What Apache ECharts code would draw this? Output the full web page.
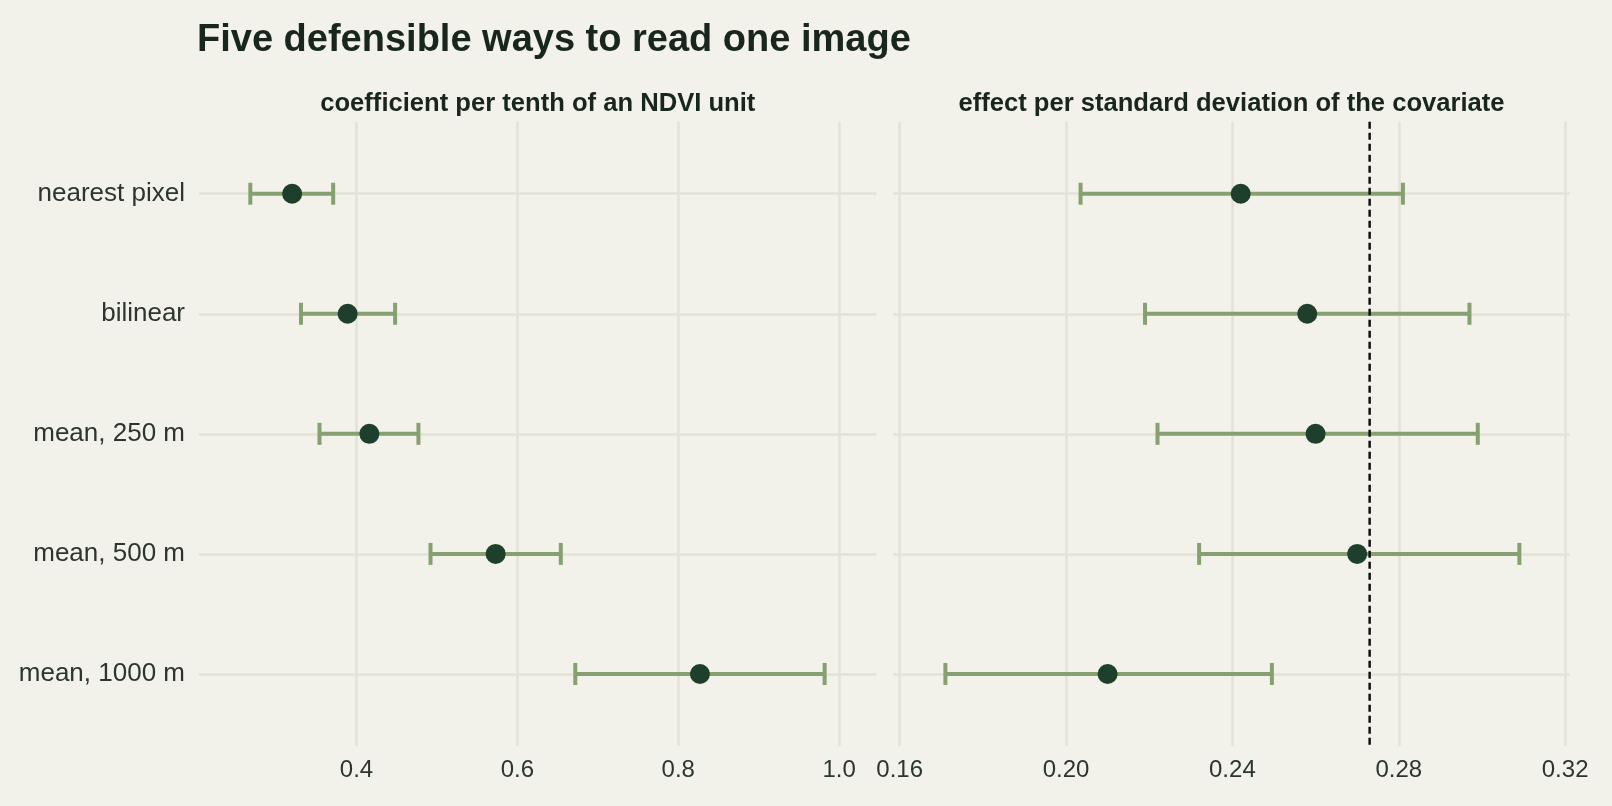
<!DOCTYPE html>
<html lang="en">
<head>
<meta charset="UTF-8">
<title>Five defensible ways to read one image</title>
<script src="https://cdn.jsdelivr.net/npm/echarts@6/dist/echarts.min.js"></script>
<style>
    html, body { margin: 0; height: 100%; background: #f2f2ea; }
    #chart { width: 1612px; height: 806px; }
</style>
</head>
<body>
<div id="chart"></div>
<script>
    // extraction methods, top to bottom
    let methods = ['nearest pixel', 'bilinear', 'mean, 250 m', 'mean, 500 m', 'mean, 1000 m'];

    // left panel: coefficient per tenth of an NDVI unit
    let coefEst  = [0.320, 0.389, 0.416, 0.573, 0.827];
    let coefLow  = [0.268, 0.331, 0.354, 0.492, 0.672];
    let coefHigh = [0.371, 0.448, 0.477, 0.654, 0.982];
    let coefTicks = [0.4, 0.6, 0.8, 1.0];

    // right panel: effect per standard deviation of the covariate
    let sdEst  = [0.242, 0.258, 0.260, 0.270, 0.210];
    let sdLow  = [0.2035, 0.219, 0.222, 0.232, 0.171];
    let sdHigh = [0.281, 0.297, 0.299, 0.309, 0.2495];
    let sdTicks = [0.16, 0.20, 0.24, 0.28, 0.32];
    let sdRef = 0.273;

    let font = "'Liberation Sans', Arial, Helvetica, sans-serif";
    let gridColor = '#e3e2d7';
    let barColor = '#86a06f';
    let pointColor = '#1e3f2b';
    let textColor = '#2c3530';
    let rows = methods.map(function (m, i) { return i; });
    let yMin = -0.6, yMax = 4.6;

    function errorBar(params, api) {
        let lo = api.coord([api.value(0), api.value(2)]);
        let hi = api.coord([api.value(1), api.value(2)]);
        let cap = 11;
        let style = {stroke: barColor, lineWidth: 4};
        return {
            type: 'group',
            children: [
                {type: 'line', shape: {x1: lo[0], y1: lo[1], x2: hi[0], y2: hi[1]}, style: style},
                {type: 'line', shape: {x1: lo[0], y1: lo[1] - cap, x2: lo[0], y2: lo[1] + cap}, style: style},
                {type: 'line', shape: {x1: hi[0], y1: hi[1] - cap, x2: hi[0], y2: hi[1] + cap}, style: style}
            ]
        };
    }

    function xAxisFor(idx, min, max, ticks, digits) {
        return {
            type: 'value', gridIndex: idx, min: min, max: max,
            axisLine: {show: false},
            axisTick: {show: false, customValues: ticks},
            axisLabel: {
                customValues: ticks, margin: 12, fontSize: 24, color: textColor, fontFamily: font,
                formatter: function (v) { return v.toFixed(digits); }
            },
            splitLine: {show: true, lineStyle: {color: gridColor, width: 2.5}}
        };
    }

    function yAxisFor(idx, showLabels) {
        return {
            type: 'value', gridIndex: idx, inverse: true, min: yMin, max: yMax,
            axisLine: {show: false},
            axisTick: {show: false, customValues: rows},
            axisLabel: {
                show: showLabels, customValues: rows, margin: 14, fontSize: 26,
                color: textColor, fontFamily: font,
                formatter: function (v) { return methods[Math.round(v)]; }
            },
            splitLine: {show: true, lineStyle: {color: gridColor, width: 2.5}}
        };
    }

    let dom = document.getElementById('chart');
    let myChart = echarts.init(dom, null, {renderer: 'canvas'});

    let option = {
        backgroundColor: '#f2f2ea',
        animation: false,
        title: {
            text: 'Five defensible ways to read one image',
            left: 197, top: 22, padding: 0,
            textStyle: {fontSize: 38, fontWeight: 'bold', color: '#18261d', fontFamily: font}
        },
        graphic: [
            {type: 'text', x: 537.8, y: 104, style: {
                text: 'coefficient per tenth of an NDVI unit', align: 'center', verticalAlign: 'middle',
                font: 'bold 25.6px ' + font, fill: '#18261d'}},
            {type: 'text', x: 1231.5, y: 104, style: {
                text: 'effect per standard deviation of the covariate', align: 'center', verticalAlign: 'middle',
                font: 'bold 25.6px ' + font, fill: '#18261d'}}
        ],
        grid: [
            {left: 199, top: 121.7, width: 677.6, height: 624.3},
            {left: 893.4, top: 121.7, width: 676.3, height: 624.3}
        ],
        xAxis: [
            xAxisFor(0, 0.2042, 1.0466, coefTicks, 1),
            xAxisFor(1, 0.1585, 0.3211, sdTicks, 2)
        ],
        yAxis: [
            yAxisFor(0, true),
            yAxisFor(1, false)
        ],
        series: [
            {
                type: 'custom', xAxisIndex: 0, yAxisIndex: 0,
                renderItem: errorBar, encode: {x: [0, 1], y: 2},
                data: rows.map(function (i) { return [coefLow[i], coefHigh[i], i]; }),
                z: 2
            },
            {
                type: 'scatter', xAxisIndex: 0, yAxisIndex: 0,
                symbolSize: 20, itemStyle: {color: pointColor, opacity: 1},
                data: rows.map(function (i) { return [coefEst[i], i]; }),
                z: 3
            },
            {
                // reference line across the whole right panel
                type: 'line', xAxisIndex: 1, yAxisIndex: 1,
                symbol: 'none', silent: true,
                lineStyle: {color: '#111111', width: 2.5, type: [7, 4]},
                data: [[sdRef, yMin], [sdRef, yMax]],
                z: 3
            },
            {
                type: 'custom', xAxisIndex: 1, yAxisIndex: 1,
                renderItem: errorBar, encode: {x: [0, 1], y: 2},
                data: rows.map(function (i) { return [sdLow[i], sdHigh[i], i]; }),
                z: 2
            },
            {
                type: 'scatter', xAxisIndex: 1, yAxisIndex: 1,
                symbolSize: 20, itemStyle: {color: pointColor, opacity: 1},
                data: rows.map(function (i) { return [sdEst[i], i]; }),
                z: 4
            }
        ]
    };
    myChart.setOption(option, true);
</script>
</body>
</html>
